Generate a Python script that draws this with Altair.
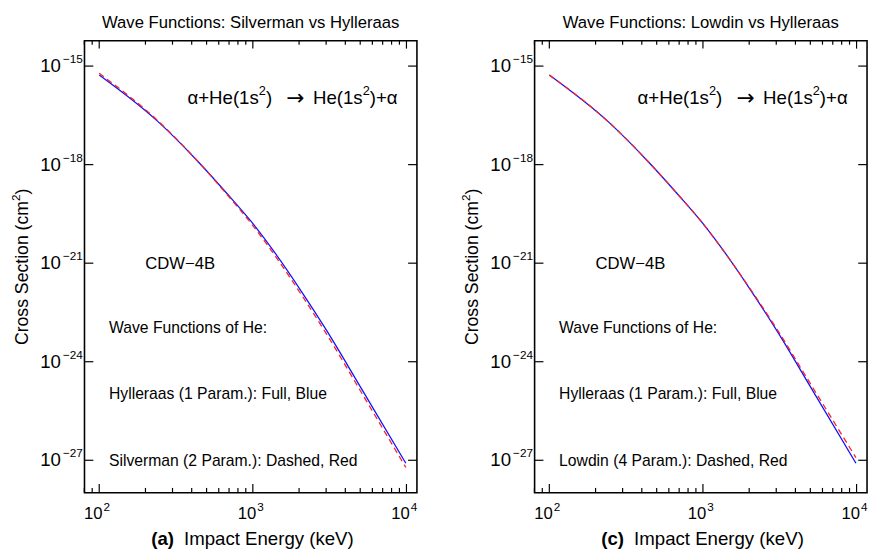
import altair as alt
import pandas as pd

# ---- data ----
logE = [2.000, 2.383, 2.638, 2.830, 2.989, 3.149, 3.319, 3.479, 3.702, 3.996]
hylleraas = [-15.27, -16.69, -17.88, -18.87, -19.73, -20.72, -21.88, -23.04, -24.78, -27.09]
silverman = [-15.22, -16.67, -17.88, -18.90, -19.79, -20.80, -21.98, -23.15, -24.90, -27.22]
lowdin = [-15.27, -16.69, -17.88, -18.87, -19.73, -20.72, -21.86, -22.99, -24.69, -26.92]

x_major = [100, 1000, 10000]
x_minor = [80, 90, 200, 300, 400, 500, 600, 700, 800, 900,
           2000, 3000, 4000, 5000, 6000, 7000, 8000, 9000]
x_exp = ["2", "3", "4"]
y_major = [1e-15, 1e-18, 1e-21, 1e-24, 1e-27]
y_exp = ["−15", "−18", "−21", "−24", "−27"]

titles = ["Wave Functions: Silverman vs Hylleraas", "Wave Functions: Lowdin vs Hylleraas"]
tags = ["(a)", "(c)"]
other_names = ["Silverman (2 Param.): Dashed, Red", "Lowdin (4 Param.): Dashed, Red"]
others = [silverman, lowdin]

FONT = "Liberation Sans"
W, H = 339, 461
XDOM = [80.2, 11700]
YDOM = [1.02e-28, 5.9e-15]

xscale = alt.Scale(type="log", domain=XDOM, nice=False)
yscale = alt.Scale(type="log", domain=YDOM, nice=False)

xaxis = alt.Axis(values=x_major, labels=False, ticks=False, tickSize=0, domain=False, grid=False,
                 title="Impact Energy (keV)", titleFont=FONT, titleFontSize=19,
                 titleFontWeight="normal", titleColor="black", titleX=187.5, titleY=47,
                 titleBaseline="middle")
yaxis = alt.Axis(values=y_major, labels=False, ticks=False, tickSize=0, domain=False, grid=False,
                 title="")
X = alt.X("E:Q", scale=xscale, axis=xaxis)
Y = alt.Y("sigma:Q", scale=yscale, axis=yaxis)

# approximate Arial advance widths (em) for laying out text pieces with superscripts
ADV = {"α": 0.58, "+": 0.584, "H": 0.722, "e": 0.556, "(": 0.333, "1": 0.556,
       "s": 0.5, ")": 0.333, "2": 0.556, "C": 0.722, "r": 0.333, "o": 0.556,
       " ": 0.278, "S": 0.667, "c": 0.5, "t": 0.278, "i": 0.222, "n": 0.556, "m": 0.833}


def text_width(s, size):
    return sum(ADV.get(c, 0.556) for c in s) * size


def panel(i):
    curve = pd.DataFrame({
        "E": [10 ** v for v in logE] * 2,
        "sigma": [10 ** v for v in hylleraas] + [10 ** v for v in others[i]],
        "wf": ["Hylleraas"] * len(logE) + ["Other"] * len(logE),
    })

    red = alt.Chart(curve[curve.wf == "Other"]).mark_line(
        color="#ff2020", strokeWidth=1.3, strokeDash=[6, 4], interpolate="monotone").encode(x=X, y=Y)
    blue = alt.Chart(curve[curve.wf == "Hylleraas"]).mark_line(
        color="#1010ff", strokeWidth=1.3, interpolate="monotone").encode(x=X, y=Y)

    ymaj = pd.DataFrame({"sigma": y_major, "exp": y_exp, "base": ["10"] * len(y_major)})
    xmaj = pd.DataFrame({"E": x_major, "exp": x_exp, "base": ["10"] * len(x_major)})
    xmin_ = pd.DataFrame({"E": x_minor})
    tick_style = dict(color="black", strokeWidth=1.2)
    ticks = [
        alt.Chart(ymaj).mark_rule(**tick_style).encode(y=Y, x=alt.value(0), x2=alt.value(9)),
        alt.Chart(ymaj).mark_rule(**tick_style).encode(y=Y, x=alt.value(W - 9), x2=alt.value(W)),
        alt.Chart(xmaj).mark_rule(**tick_style).encode(x=X, y=alt.value(H - 9), y2=alt.value(H)),
        alt.Chart(xmaj).mark_rule(**tick_style).encode(x=X, y=alt.value(0), y2=alt.value(8)),
        alt.Chart(xmin_).mark_rule(**tick_style).encode(x=X, y=alt.value(H - 5), y2=alt.value(H)),
        alt.Chart(xmin_).mark_rule(**tick_style).encode(x=X, y=alt.value(0), y2=alt.value(4)),
    ]
    lab = dict(font=FONT, color="black", baseline="middle")
    labels = [
        alt.Chart(ymaj).mark_text(align="right", fontSize=19, **lab).encode(
            y=Y, x=alt.value(-24), text="base:N"),
        alt.Chart(ymaj).mark_text(align="left", fontSize=12, dy=-7, **lab).encode(
            y=Y, x=alt.value(-22), text="exp:N"),
        alt.Chart(xmaj).mark_text(align="right", fontSize=17, dx=3.5, **lab).encode(
            x=X, y=alt.value(H + 22), text="base:N"),
        alt.Chart(xmaj).mark_text(align="left", fontSize=12, dx=4.5, dy=-7, **lab).encode(
            x=X, y=alt.value(H + 22), text="exp:N"),
    ]

    # reaction text, built from pieces so that the superscripts are real raised digits
    FS, SS, RY = 19, 13, 58.5
    pieces = []
    x0 = 105
    for seg in [("α+He(1s", FS, 0), ("2", SS, -7), (")", FS, 0)]:
        pieces.append((seg[0], x0, RY + seg[2], seg[1], "normal", FONT, "left", 0))
        x0 += text_width(seg[0], seg[1])
    pieces.append(("→", 215, RY + 0.5, 22, "normal", "DejaVu Sans", "center", 0))
    x0 = 233
    for seg in [("He(1s", FS, 0), ("2", SS, -7), (")+α", FS, 0)]:
        pieces.append((seg[0], x0, RY + seg[2], seg[1], "normal", FONT, "left", 0))
        x0 += text_width(seg[0], seg[1])

    # rotated y-axis title "Cross Section (cm2)" with a raised 2
    TX, TS = -63, 18
    segs = [("Cross Section (cm", TS, 0), ("2", 12, -7), (")", TS, 0)]
    total = sum(text_width(s, f) for s, f, _ in segs)
    y0 = 230.5 + total / 2
    for s, f, off in segs:
        pieces.append((s, TX + off, y0, f, "normal", FONT, "left", 270))
        y0 -= text_width(s, f)

    ann = pieces + [
        ("CDW−4B", 62, 227.5, 17, "normal", FONT, "left", 0),
        ("Wave Functions of He:", 25, 292.5, 16, "normal", FONT, "left", 0),
        ("Hylleraas (1 Param.): Full, Blue", 25, 360.5, 16, "normal", FONT, "left", 0),
        (other_names[i], 25, 428.5, 16, "normal", FONT, "left", 0),
        (tags[i], 68, 508.5, 19, "bold", FONT, "left", 0),
    ]
    texts = []
    for t, x, y, fs, fw, fnt, al, ang in ann:
        texts.append(
            alt.Chart(pd.DataFrame({"t": [t]})).mark_text(
                align=al, baseline="middle", font=fnt, fontSize=fs, angle=ang,
                fontWeight=fw, color="black").encode(
                text="t:N", x=alt.value(x), y=alt.value(y))
        )

    return alt.layer(blue, red, *ticks, *labels, *texts).properties(
        width=W, height=H,
        title=alt.TitleParams(titles[i], font=FONT, fontSize=17, fontWeight="normal",
                              color="black", anchor="middle", offset=8),
    )


chart = alt.hconcat(panel(0), panel(1), spacing=41).properties(
    padding={"left": 1, "top": 0, "right": 0, "bottom": 0}
).configure(background="white").configure_view(stroke="black", strokeWidth=1.6)

chart.save("out.html", embed_options={"renderer": "svg", "actions": False})
